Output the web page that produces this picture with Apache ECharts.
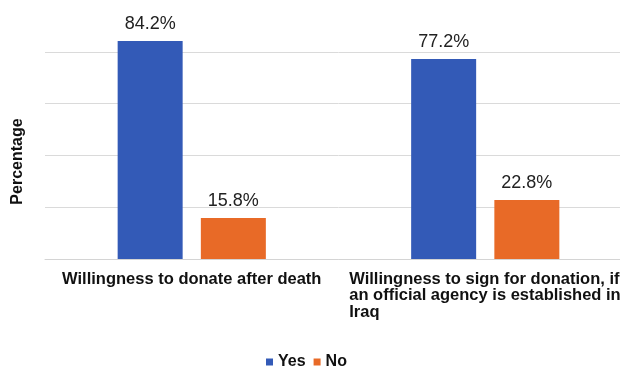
<!DOCTYPE html>
<html>
<head>
<meta charset="utf-8">
<script src="https://cdn.jsdelivr.net/npm/echarts@6/dist/echarts.min.js"></script>
<style>
  html, body { margin: 0; padding: 0; background: #fff; overflow: hidden; }
  /* 右侧被裁掉一部分，和原图一致 */
  #chart { width: 632px; height: 368px; }
</style>
</head>
<body>
<div id="chart"></div>
<script>
// categories on the x axis
var categories = [
  'Willingness to donate after death',
  'Willingness to sign for donation, if\nan official agency is established in\nIraq'
]
// percentages
var yesValues = [84.2, 77.2]
var noValues = [15.8, 22.8]
var seriesNames = ['Yes', 'No']

var chart = echarts.init(document.getElementById('chart'))
var font = '"Liberation Sans", Arial, sans-serif'

var option = {
  animation: false,
  color: ['#335ab7', '#e86a27'],
  grid: {
    left: 45,
    right: 0,
    top: 0,
    bottom: 109,
    containLabel: false
  },
  legend: {
    data: seriesNames,
    left: 261,
    top: 349,
    icon: 'rect',
    itemWidth: 7,
    itemHeight: 7,
    itemGap: 8,
    textStyle: {
      fontFamily: font,
      fontSize: 16,
      fontWeight: 'bold',
      color: '#111'
    }
  },
  xAxis: {
    type: 'category',
    data: categories,
    axisTick: { show: false },
    axisLine: { lineStyle: { color: '#d4d4d4', width: 1 } },
    axisLabel: {
      interval: 0,
      margin: 12,
      fontFamily: font,
      color: '#111',
      formatter: function (value, index) {
        // 多行标签左对齐
        var style = index === 0 ? 'a' : 'b'
        return value.split('\n').map(function (line) {
          return '{' + style + '|' + line + '}'
        }).join('\n')
      },
      rich: {
        a: { fontFamily: font, fontSize: 16.5, fontWeight: 'bold', color: '#111', lineHeight: 16.5 },
        b: { fontFamily: font, fontSize: 16.5, fontWeight: 'bold', color: '#111', lineHeight: 16.5, width: 272, align: 'left' }
      }
    }
  },
  yAxis: {
    type: 'value',
    min: 0,
    max: 100,
    interval: 20,
    name: 'Percentage',
    nameLocation: 'middle',
    nameRotate: 90,
    nameGap: 19,
    nameTextStyle: {
      fontFamily: font,
      fontSize: 16,
      fontWeight: 'bold',
      color: '#111',
      padding: [0, 64, 0, 0]
    },
    axisLabel: { show: false },
    axisTick: { show: false },
    axisLine: { show: false },
    splitLine: {
      showMaxLine: false,
      lineStyle: { color: '#dadada', width: 1 }
    }
  },
  series: [
    {
      name: seriesNames[0],
      type: 'bar',
      data: yesValues,
      barWidth: 65,
      barGap: '28%',
      label: {
        show: true,
        position: 'top',
        distance: 8,
        formatter: '{c}%',
        fontFamily: font,
        fontSize: 18,
        color: '#222'
      }
    },
    {
      name: seriesNames[1],
      type: 'bar',
      data: noValues,
      barWidth: 65,
      barGap: '28%',
      label: {
        show: true,
        position: 'top',
        distance: 8,
        formatter: '{c}%',
        fontFamily: font,
        fontSize: 18,
        color: '#222'
      }
    }
  ]
}

chart.setOption(option)
</script>
</body>
</html>
